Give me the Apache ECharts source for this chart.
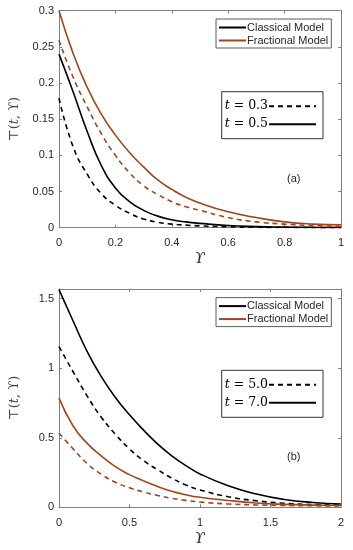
<!DOCTYPE html>
<html>
<head>
<meta charset="utf-8">
<script src="https://cdn.jsdelivr.net/npm/echarts@6/dist/echarts.min.js"></script>
<style>html,body{margin:0;padding:0;background:#fff;}#c{width:353px;height:550px;}</style>
</head>
<body>
<div id="c"></div>
<script>
// Panel (a)
const xA = [0, 0.05, 0.1, 0.15, 0.2, 0.25, 0.3, 0.35, 0.4, 0.45, 0.5, 0.6, 0.7, 0.8, 0.9, 1.0];
const classicalA_t03 = [0.179, 0.112, 0.074, 0.047, 0.031, 0.020, 0.012, 0.0075, 0.005, 0.0035, 0.0025, 0.0012, 0.0006, 0.0003, 0.0002, 0.0001];
const classicalA_t05 = [0.240, 0.188, 0.133, 0.086, 0.055, 0.036, 0.024, 0.016, 0.011, 0.008, 0.006, 0.003, 0.0015, 0.0008, 0.0004, 0.0002];
const fractionalA_t03 = [0.259, 0.208, 0.167, 0.130, 0.100, 0.076, 0.058, 0.046, 0.036, 0.029, 0.024, 0.014, 0.008, 0.005, 0.003, 0.002];
const fractionalA_t05 = [0.300, 0.241, 0.194, 0.157, 0.128, 0.104, 0.084, 0.066, 0.053, 0.042, 0.034, 0.022, 0.014, 0.008, 0.005, 0.004];
// Panel (b)
const xB = [0, 0.1, 0.2, 0.3, 0.4, 0.5, 0.6, 0.7, 0.8, 0.9, 1.0, 1.2, 1.4, 1.6, 1.8, 2.0];
const classicalB_t50 = [1.156, 0.975, 0.800, 0.648, 0.525, 0.420, 0.335, 0.270, 0.210, 0.160, 0.125, 0.076, 0.047, 0.029, 0.020, 0.016];
const classicalB_t70 = [1.565, 1.340, 1.120, 0.940, 0.790, 0.665, 0.555, 0.455, 0.370, 0.300, 0.240, 0.155, 0.095, 0.056, 0.035, 0.024];
const fractionalB_t50 = [0.533, 0.420, 0.315, 0.237, 0.180, 0.140, 0.110, 0.085, 0.065, 0.050, 0.038, 0.024, 0.017, 0.013, 0.011, 0.010];
const fractionalB_t70 = [0.785, 0.585, 0.460, 0.370, 0.292, 0.235, 0.190, 0.150, 0.115, 0.090, 0.072, 0.049, 0.031, 0.021, 0.016, 0.013];
// Ticks / labels
const yTicksA = {min: 0, max: 0.3, interval: 0.05};
const xTicksA = {min: 0, max: 1, interval: 0.2};
const yTicksB = {min: 0, max: 1.57, interval: 0.5};
const xTicksB = {min: 0, max: 2, interval: 0.5};
const legendModels = ['Classical Model', 'Fractional Model'];
const timesA = ['0.3', '0.5'];
const timesB = ['5.0', '7.0'];

const BLACK = '#000000';
const BROWN = '#A0461E';
const AXIS = '#808080';
const TXT = '#262626';

function pairs(xs, ys) { return xs.map((x, i) => [x, ys[i]]); }

const chart = echarts.init(document.getElementById('c'));

function xAxisPair(grid, t) {
  const common = {
    type: 'value', gridIndex: grid, min: t.min, max: t.max, interval: t.interval,
    splitLine: {show: false},
    axisLine: {show: true, onZero: false, lineStyle: {color: AXIS, width: 1}},
    axisTick: {show: true, inside: true, length: 3, lineStyle: {color: AXIS}},
  };
  return [
    Object.assign({}, common, {
      position: 'bottom',
      axisLabel: {color: TXT, fontSize: 11, fontFamily: 'Liberation Sans', margin: 10},
      name: '{i|ϒ}', nameLocation: 'middle', nameGap: 24,
      nameTextStyle: {rich: {i: {fontFamily: 'DejaVu Serif', fontStyle: 'italic', fontSize: 15, color: TXT}}}
    }),
    Object.assign({}, common, {position: 'top', axisLabel: {show: false}})
  ];
}
function yAxisPair(grid, t) {
  const common = {
    type: 'value', gridIndex: grid, min: t.min, max: t.max, interval: t.interval,
    splitLine: {show: false},
    axisLine: {show: true, onZero: false, lineStyle: {color: AXIS, width: 1}},
    axisTick: {show: true, inside: true, length: 3, lineStyle: {color: AXIS}},
  };
  return [
    Object.assign({}, common, {
      position: 'left',
      axisLabel: {color: TXT, fontSize: 11, fontFamily: 'Liberation Sans', margin: 5, showMaxLabel: true,
        formatter: v => {
          const k = Math.round(v / t.interval);
          if (Math.abs(k * t.interval - v) > 1e-9) return '';
          return String(+v.toFixed(4));
        }},
      name: '{n|⊤(}{i|t}{n|, ϒ)}', nameLocation: 'middle', nameGap: 38, nameRotate: 90,
      nameTextStyle: {rich: {
        n: {fontFamily: 'DejaVu Serif', fontSize: 13, color: '#444'},
        i: {fontFamily: 'DejaVu Serif', fontStyle: 'italic', fontSize: 13, color: '#444'}
      }}
    }),
    Object.assign({}, common, {position: 'right', axisLabel: {show: false}})
  ];
}

function line(name, xi, yi, xs, ys, color, dashed) {
  return {
    name: name, type: 'line', xAxisIndex: xi, yAxisIndex: yi,
    data: pairs(xs, ys), smooth: 0.5, symbol: 'none',
    lineStyle: {color: color, width: 1.6, type: dashed ? [5, 4] : 'solid'},
    itemStyle: {color: color}, z: 3
  };
}
function dummy(name, xi, yi, dashed) {
  return {name: name, type: 'line', xAxisIndex: xi, yAxisIndex: yi, data: [], symbol: 'none',
    lineStyle: {color: BLACK, width: 1.6, type: dashed ? [5, 4] : 'solid'}, itemStyle: {color: BLACK}};
}

const legendBoxStyle = {
  orient: 'vertical', borderColor: '#333', borderWidth: 0.8, backgroundColor: '#fff',
  borderRadius: 0, selectedMode: false,
  itemStyle: {opacity: 0, borderWidth: 0}
};

const option = {
  animation: false,
  backgroundColor: '#fff',
  grid: [
    {left: 52, right: 12, top: 10.7, height: 217},
    {left: 52, right: 12, top: 289, height: 218.3}
  ],
  xAxis: [...xAxisPair(0, xTicksA), ...xAxisPair(1, xTicksB)],
  yAxis: [...yAxisPair(0, yTicksA), ...yAxisPair(1, yTicksB)],
  legend: [
    Object.assign({}, legendBoxStyle, {
      data: legendModels, left: 216, top: 19, itemWidth: 27, itemHeight: 10, itemGap: 2,
      padding: [3, 3, 2, 2],
      textStyle: {fontFamily: 'Liberation Sans', fontSize: 11, color: TXT, padding: [0, 0, 0, -4]}
    }),
    Object.assign({}, legendBoxStyle, {
      data: timesA.map(s => 't = ' + s), left: 221.7, top: 91.7, align: 'right',
      itemWidth: 47, itemHeight: 12, itemGap: 5, padding: [8, 6, 8, 3], borderWidth: 1,
      formatter: n => '{i|t} = ' + n.split('= ')[1],
      textStyle: {fontFamily: 'DejaVu Serif', fontSize: 12.5, color: '#000', padding: [0, -4, 0, 0],
        rich: {i: {fontFamily: 'DejaVu Serif', fontStyle: 'italic', fontSize: 12.5}}}
    }),
    Object.assign({}, legendBoxStyle, {
      data: legendModels, left: 216, top: 297.6, itemWidth: 27, itemHeight: 10, itemGap: 2,
      padding: [3, 3, 2, 2],
      textStyle: {fontFamily: 'Liberation Sans', fontSize: 11, color: TXT, padding: [0, 0, 0, -4]}
    }),
    Object.assign({}, legendBoxStyle, {
      data: timesB.map(s => 't = ' + s), left: 221.7, top: 370.3, align: 'right',
      itemWidth: 47, itemHeight: 12, itemGap: 5, padding: [8, 6, 8, 3], borderWidth: 1,
      formatter: n => '{i|t} = ' + n.split('= ')[1],
      textStyle: {fontFamily: 'DejaVu Serif', fontSize: 12.5, color: '#000', padding: [0, -4, 0, 0],
        rich: {i: {fontFamily: 'DejaVu Serif', fontStyle: 'italic', fontSize: 12.5}}}
    })
  ],
  graphic: [
    {type: 'text', left: 287, top: 173, style: {text: '(a)', font: '11px "Liberation Sans"', fill: TXT}},
    {type: 'text', left: 287, top: 451.5, style: {text: '(b)', font: '11px "Liberation Sans"', fill: TXT}}
  ],
  series: [
    line('Classical Model', 0, 0, xA, classicalA_t05, BLACK, false),
    line('Classical Model', 0, 0, xA, classicalA_t03, BLACK, true),
    line('Fractional Model', 0, 0, xA, fractionalA_t05, BROWN, false),
    line('Fractional Model', 0, 0, xA, fractionalA_t03, BROWN, true),
    dummy('t = ' + timesA[0], 0, 0, true),
    dummy('t = ' + timesA[1], 0, 0, false),
    line('Classical Model', 2, 2, xB, classicalB_t70, BLACK, false),
    line('Classical Model', 2, 2, xB, classicalB_t50, BLACK, true),
    line('Fractional Model', 2, 2, xB, fractionalB_t70, BROWN, false),
    line('Fractional Model', 2, 2, xB, fractionalB_t50, BROWN, true),
    dummy('t = ' + timesB[0], 2, 2, true),
    dummy('t = ' + timesB[1], 2, 2, false)
  ]
};
chart.setOption(option);
</script>
</body>
</html>
